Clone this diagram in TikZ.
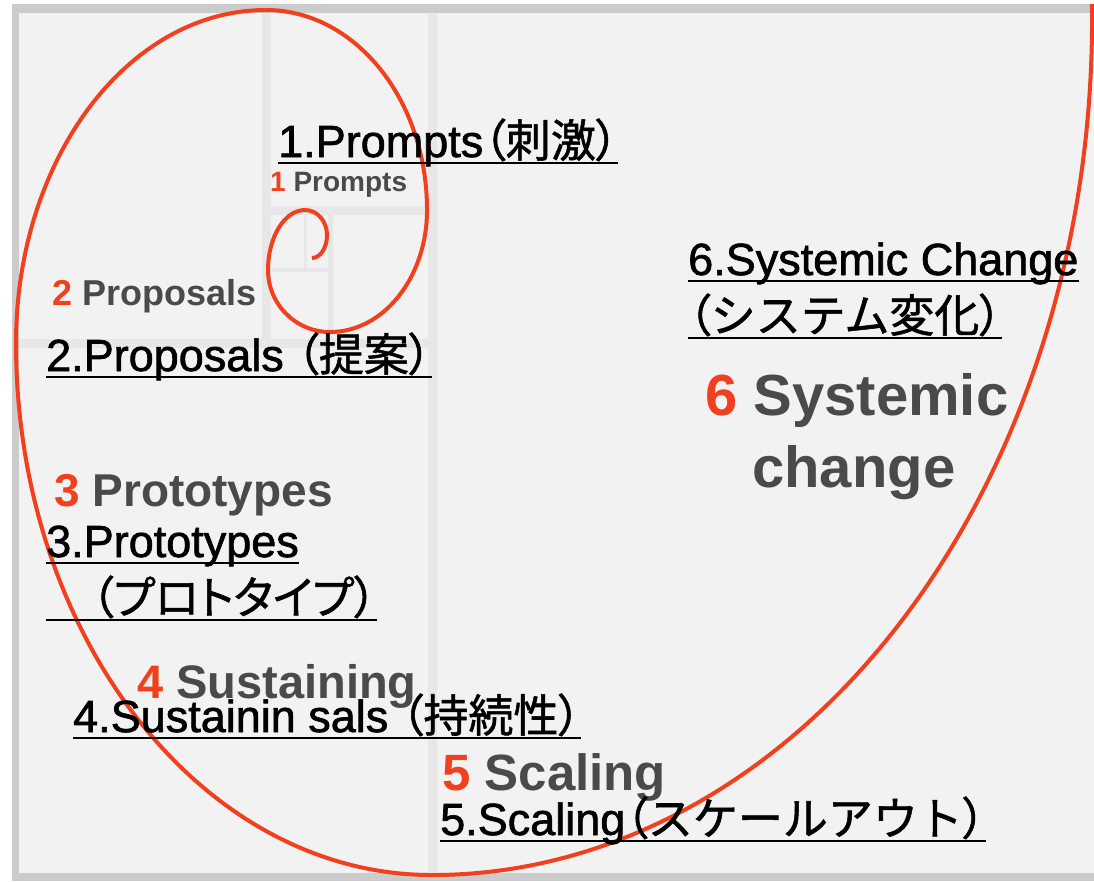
\documentclass[tikz,border=0pt]{standalone}
\usepackage{fontspec}
\setmainfont{Liberation Sans}
\newfontfamily\capfont{Liberation Sans}[FakeBold=1.5]
\newfontfamily\jp{Noto Sans CJK JP}[FakeBold=1.2]
\newfontfamily\jpp{Noto Sans CJK JP}[RawFeature=+palt, FakeBold=1.2]
\definecolor{spiralred}{HTML}{F0401E}
\definecolor{panelgray}{HTML}{F2F2F2}
\definecolor{framegray}{HTML}{CCCCCC}
\definecolor{squaregray}{HTML}{E7E7E7}
\definecolor{stagegray}{HTML}{4A4A4A}
\newcommand{\stagenum}[1]{\textcolor{spiralred}{#1}}

\begin{document}
\begin{tikzpicture}[x=1pt, y=-1pt]
	\tikzstyle{stage}   = [anchor=base west, inner sep=0pt, text=stagegray]
	\tikzstyle{caption} = [anchor=base west, inner sep=0pt, font=\capfont\fontsize{45}{54}\selectfont]
	\tikzstyle{square}  = [draw=squaregray, line width=9pt]
	\tikzstyle{spiral}  = [draw=spiralred, line width=4pt]

	\useasboundingbox (0,0) rectangle (1094,881);
	\fill[framegray] (12,4) rectangle (1094,881);
	\fill[panelgray] (19,13) rectangle (1094,873);

	% golden rectangle subdivisions
	\draw[square] (432,13) -- (432,873);
	\draw[square] (19,343) -- (432,343);
	\draw[square] (266,13) -- (266,343);
	\draw[square] (266,210) -- (432,210);
	\draw[square, line width=5pt] (330,210) -- (330,343);
	\draw[square, line width=4pt] (266,270) -- (330,270);
	\draw[square, line width=3pt] (305,210) -- (305,270);

	\begin{scope}
		\clip (12,4) rectangle (1094,881);
		\draw[spiral] (1089.5,-54.5)
			arc[start angle=-5, end angle=90, x radius=660, y radius=855]
			arc[start angle=90, end angle=180, x radius=416, y radius=532]
			arc[start angle=180, end angle=270, x radius=250, y radius=333]
			arc[start angle=270, end angle=360, x radius=161, y radius=200]
			arc[start angle=0, end angle=90, x radius=97, y radius=122]
			arc[start angle=90, end angle=180, x radius=62, y radius=62]
			arc[start angle=180, end angle=270, x radius=37, y radius=60]
			arc[start angle=270, end angle=360, x radius=22, y radius=25]
			arc[start angle=0, end angle=90, x radius=15, y radius=23];
	\end{scope}

	\foreach \name/\num/\word/\fs/\x/\y in {p1/1/Prompts/28/270/191, p2/2/Proposals/36/52/305,
		p3/3/Prototypes/46/54/506, p4/4/Sustaining/47/137/698, p5/5/Scaling/51/442/790, p6/6/Systemic/58/705/415}
		\node[stage, font=\bfseries\fontsize{\fs}{\fs}\selectfont] (\name) at (\x,\y) {\stagenum{\num} \word};
	\node[stage, font=\bfseries\fontsize{58}{58}\selectfont] (p6b) at (752,487) {change};

	\node[caption] (l1) at (278,157) {1.Prompts{\jpp （刺激）}};
	\node[caption] (l2) at (46,371) {2.Proposals {\jpp （提案）}};
	\node[caption] (l3) at (46,557) {3.Prototypes};
	\node[caption] (l3b) at (46,614) {{\jpp 　（プロトタイプ）}};
	\node[caption] (l4) at (73,732) {4.Sustainin sals {\jpp （持続性）}};
	\node[caption] (l5) at (440,835) {5.Scaling{\jpp （}{\jp スケールアウト}{\jpp ）}};
	\node[caption] (l6) at (688,275) {6.Systemic Change};
	\node[caption] (l6b) at (688,332) {{\jpp （}{\jp システム変化}{\jpp ）}};

	\foreach \n in {l1, l2, l3, l3b, l4, l5, l6, l6b}
		\draw[line width=2.5pt] ([yshift=-6pt]\n.base west) -- ([yshift=-6pt]\n.base east);

\end{tikzpicture}
\end{document}
